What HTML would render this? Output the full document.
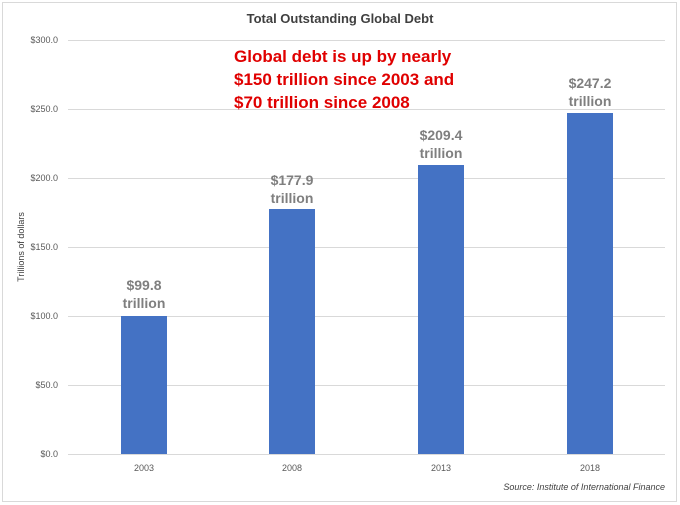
<!DOCTYPE html>
<html><head><style>
body{margin:0;background:#fff;}
svg{display:block;font-family:"Liberation Sans",sans-serif;}
</style></head><body>
<svg width="680" height="505" viewBox="0 0 680 505">
<rect x="2.5" y="2.5" width="674" height="499" fill="#fff" stroke="#d9d9d9"/>
<text x="340" y="23" text-anchor="middle" font-size="13" font-weight="bold" fill="#404040">Total Outstanding Global Debt</text>
<g stroke="#d9d9d9" stroke-width="1">
<line x1="68" x2="665" y1="40.5" y2="40.5"/>
<line x1="68" x2="665" y1="109.5" y2="109.5"/>
<line x1="68" x2="665" y1="178.5" y2="178.5"/>
<line x1="68" x2="665" y1="247.5" y2="247.5"/>
<line x1="68" x2="665" y1="316.5" y2="316.5"/>
<line x1="68" x2="665" y1="385.5" y2="385.5"/>
<line x1="68" x2="665" y1="454.5" y2="454.5"/>
</g>
<g font-size="9" fill="#595959" text-anchor="end">
<text x="58" y="43">$300.0</text>
<text x="58" y="112">$250.0</text>
<text x="58" y="181">$200.0</text>
<text x="58" y="250">$150.0</text>
<text x="58" y="319">$100.0</text>
<text x="58" y="388">$50.0</text>
<text x="58" y="457">$0.0</text>
</g>
<text transform="translate(24,247) rotate(-90)" text-anchor="middle" font-size="9" fill="#404040">Trillions of dollars</text>
<g fill="#4472c4">
<rect x="121" y="316" width="46" height="138"/>
<rect x="269" y="209" width="46" height="245"/>
<rect x="418" y="165" width="46" height="289"/>
<rect x="567" y="113" width="46" height="341"/>
</g>
<g font-size="9" fill="#595959" text-anchor="middle">
<text x="144" y="471">2003</text>
<text x="292" y="471">2008</text>
<text x="441" y="471">2013</text>
<text x="590" y="471">2018</text>
</g>
<g font-size="14" font-weight="bold" fill="#7f7f7f" text-anchor="middle">
<text x="144" y="290">$99.8</text><text x="144" y="308">trillion</text>
<text x="292" y="185">$177.9</text><text x="292" y="203">trillion</text>
<text x="441" y="140">$209.4</text><text x="441" y="158">trillion</text>
<text x="590" y="88">$247.2</text><text x="590" y="106">trillion</text>
</g>
<g font-size="17" font-weight="bold" fill="#e00000">
<text x="234" y="62">Global debt is up by nearly</text>
<text x="234" y="85">$150 trillion since 2003 and</text>
<text x="234" y="108">$70 trillion since 2008</text>
</g>
<text x="665" y="490" text-anchor="end" font-size="9" font-style="italic" fill="#404040">Source: Institute of International Finance</text>
</svg>
</body></html>
